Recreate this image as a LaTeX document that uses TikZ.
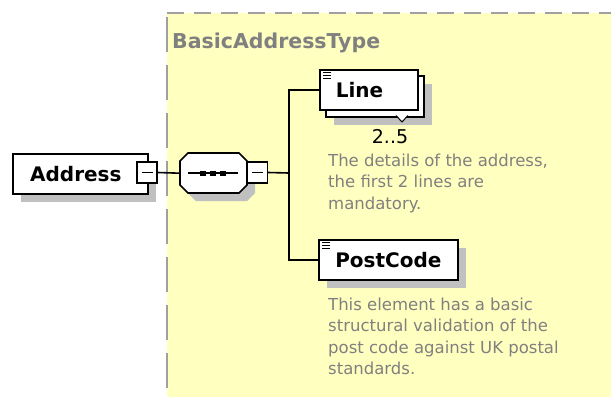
\documentclass[tikz,border=0pt]{standalone}
\usepackage{fontspec}
\setmainfont{DejaVu Sans}
\usetikzlibrary{shadows}

\definecolor{typebg}{RGB}{255,255,192}
\definecolor{typeline}{RGB}{160,160,160}
\definecolor{shadowgray}{RGB}{192,192,192}
\definecolor{notegray}{RGB}{128,128,128}

% octagon of a sequence compositor: top-left corner x, y
\newcommand\seqoctagon[2]{(#1+8,#2) -- (#1+59,#2) -- (#1+67,#2+8) -- (#1+67,#2+32)
  -- (#1+59,#2+40) -- (#1+8,#2+40) -- (#1,#2+32) -- (#1,#2+8) -- cycle}

\begin{document}
\begin{tikzpicture}[x=1pt,y=-1pt,
  elembox/.style={draw=black, line width=1.7pt, fill=white, inner sep=0pt,
    anchor=north west, font=\bfseries\fontsize{20}{24}\selectfont},
  boxshadow/.style={drop shadow={shadow xshift=#1, shadow yshift=-#1,
    fill=shadowgray, opacity=1}},
  toggle/.style={draw=black, line width=1.4pt, fill=white, inner sep=0pt,
    minimum width=20pt, minimum height=21pt},
  wire/.style={draw=black, line width=1.6pt},
  note/.style={anchor=base west, inner sep=0pt, align=left, text=notegray,
    font=\fontsize{16.5}{21.5}\selectfont},
  listicon/.style={draw=black, line width=0.9pt}
]
\useasboundingbox (0,0) rectangle (611,397);

% complex type area
\fill[typebg] (167,13) rectangle (611,397);
\draw[typeline, line width=2pt, dash pattern=on 17pt off 10pt] (167,13) -- (611,13);
\draw[typeline, line width=2pt, dash pattern=on 35pt off 13pt] (167,17) -- (167,397);
\node[anchor=base west, inner sep=0pt, text=notegray,
  font=\bfseries\fontsize{20.5}{24}\selectfont] (typename) at (172,48) {BasicAddressType};

% root element
\node[elembox, boxshadow=8pt, minimum width=135pt, minimum height=40pt] (addr)
  at (12,153) {Address\hspace*{9pt}};
\node[toggle] (addrtog) at (147,172.5) {};
\draw[line width=1.4pt] ([xshift=-5.5pt]addrtog.center) -- ([xshift=5.5pt]addrtog.center);

% sequence compositor
\fill[shadowgray] \seqoctagon{188}{161};
\draw[line width=1.6pt, fill=white] \seqoctagon{180}{153};
\node[minimum width=67pt, minimum height=40pt, inner sep=0pt, anchor=north west] (seq) at (180,153) {};
\draw[line width=1.4pt] (188,173) -- (238,173);
\foreach \dx in {203,213,223}
  \fill (\dx-3,170.5) rectangle (\dx+3,175.5);
\node[toggle] (seqtog) at (257.5,172.5) {};
\draw[line width=1.4pt] ([xshift=-5.5pt]seqtog.center) -- ([xshift=5.5pt]seqtog.center);

\coordinate (hub) at (289,173);

% Line element, repeated 2..5
\node[elembox, boxshadow=8pt, minimum width=98pt, minimum height=41pt] (lineback) at (325,75) {};
\fill[white] (396,115) -- (408,115) -- (402,122) -- cycle;
\draw[line width=1pt] (396,115.5) -- (402,122) -- (408,115.5);
\node[elembox, minimum width=98pt, minimum height=40pt, text width=98pt, align=left] (line)
  at (319,69) {\hspace*{16pt}Line};
\foreach \dy in {72,75,78}
  \draw[listicon] (323,\dy) -- (331,\dy);
\node[anchor=base, inner sep=0pt, font=\fontsize{19}{22}\selectfont] (linecard) at (390,143) {2..5};
\node[note] (linenote) at (328,209) {The details of the address,\\the first 2 lines are\\mandatory.};

% PostCode element
\node[elembox, boxshadow=8.5pt, minimum width=139pt, minimum height=40pt] (post)
  at (318,239) {PostCode};
\foreach \dy in {242,245,248}
  \draw[listicon] (322,\dy) -- (330,\dy);
\node[note] (postnote) at (328,374.5) {This element has a basic\\structural validation of the\\post code against UK postal\\standards.};

% connectors
\draw[wire] (addrtog.east) -- (seq.west);
\draw[wire] (seqtog.east) -- (hub);
\draw[wire] (line.west) -| (hub) |- (post.west);
\end{tikzpicture}
\end{document}
